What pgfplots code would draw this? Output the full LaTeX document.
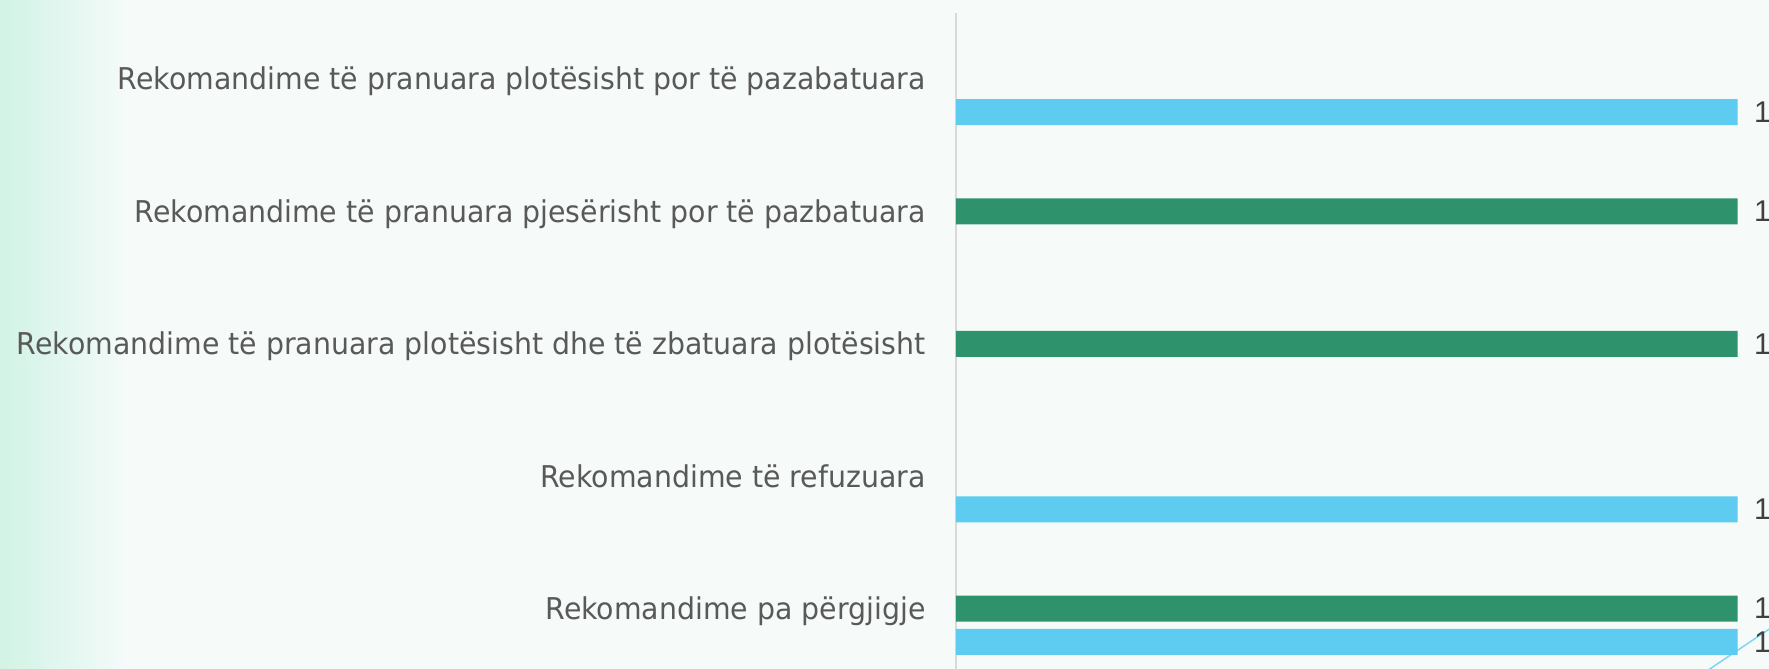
\documentclass[border=0pt]{standalone}
\usepackage{pgfplots}
\pgfplotsset{compat=1.18}
\usepackage{fontspec}
\newfontfamily\labfont{DejaVu Sans}[FakeStretch=0.946]
\newfontfamily\numfont{Liberation Sans}

\definecolor{bgmint}{HTML}{D2F3E6}
\definecolor{bgpale}{HTML}{F6FBFA}
\definecolor{barblue}{HTML}{5ECBF0}
\definecolor{bargreen}{HTML}{2E936D}
\definecolor{labgray}{HTML}{595959}
\definecolor{numgray}{HTML}{404040}
\definecolor{axgray}{HTML}{D9D9D9}

\begin{document}
\begin{tikzpicture}
% background (1px = 0.5pt)
\fill[bgpale] (0,0) rectangle (884.5pt,334.5pt);
% soft mint fade on the left edge, drawn in thin strips
\foreach \i in {0,...,39} {
    \pgfmathsetmacro{\p}{100*(1-\i/40)^0.9}
    \fill[bgmint!\p!bgpale] (\i*1.6pt,0) rectangle (\i*1.6pt+1.7pt,334.5pt);
}
\draw[barblue!80, line width=0.75pt] (840pt,-10pt) -- (900pt,30.3pt);

\begin{axis}[
    at={(478pt,0pt)}, anchor=south west,
    scale only axis,
    width=390.85pt, height=327.85pt,
    xmin=0, xmax=1,
    ymin=-0.456, ymax=4.496,
    axis x line=none,
    axis y line=left,
    axis line style={-, draw=axgray, line width=0.75pt},
    clip=false,
    xbar, bar width=0.196,
    ytick={0,1,2,3,4},
    major tick length=0pt,
    yticklabels={
        Rekomandime pa përgjigje,
        Rekomandime të refuzuara,
        Rekomandime të pranuara plotësisht dhe të zbatuara plotësisht,
        Rekomandime të pranuara pjesërisht por të pazbatuara,
        Rekomandime të pranuara plotësisht por të pazabatuara},
    yticklabel style={font=\labfont\fontsize{15pt}{18pt}\selectfont,
        text=labgray, inner sep=0pt, anchor=base east,
        xshift=-15pt, yshift=-5.4pt},
    point meta=x,
    nodes near coords,
    every node near coord/.append style={
        font=\numfont\fontsize{15pt}{18pt}\selectfont,
        text=numgray, anchor=west, inner sep=0pt, xshift=8pt,
        /pgf/number format/assume math mode=true},
]
% green series
\addplot[draw=none, fill=bargreen, bar shift=0pt]
    coordinates {(1,0) (1,2) (1,3)};
% blue series
\addplot[draw=none, fill=barblue, bar shift=-16.6pt]
    coordinates {(1,0) (1,1) (1,4)};
\end{axis}

\pgfresetboundingbox
\useasboundingbox (0,0) rectangle (884.5pt,334.5pt);
\end{tikzpicture}
\end{document}
